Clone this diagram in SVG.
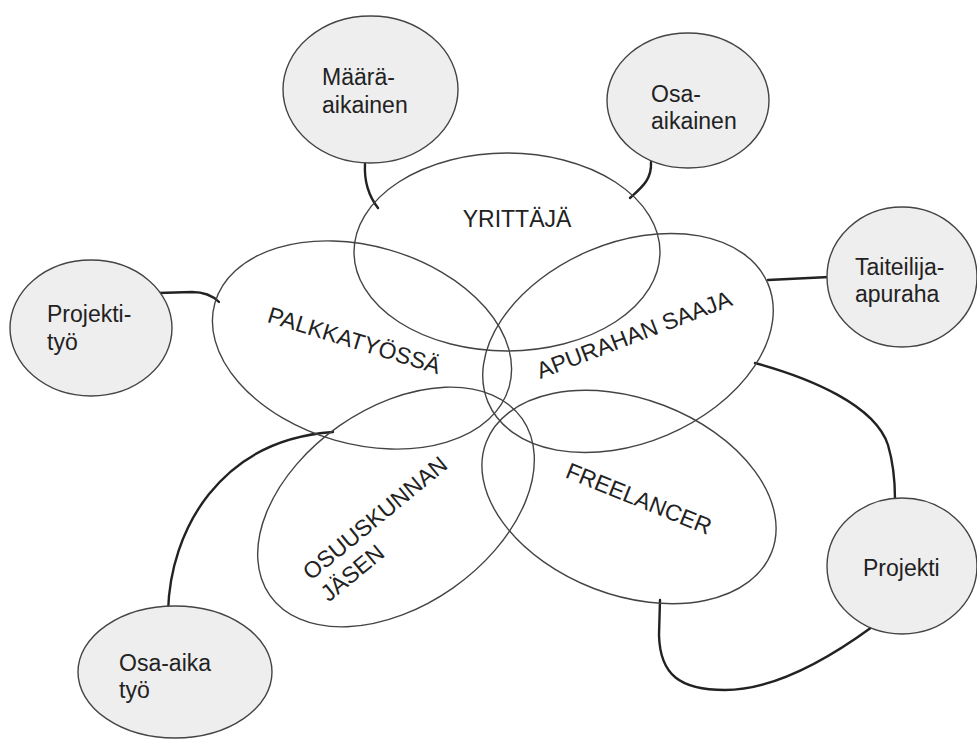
<svg xmlns="http://www.w3.org/2000/svg" width="977" height="740" viewBox="0 0 977 740">
  <style>
    text { font-family: "Liberation Sans", Arial, sans-serif; font-size: 23px; fill: #222; }
    .big { fill: none; stroke: #444; stroke-width: 1.4; }
    .small { fill: #eeeeee; stroke: #444; stroke-width: 1.4; }
    .conn { fill: none; stroke: #222; stroke-width: 2.4; stroke-linecap: round; }
  </style>
  <rect width="977" height="740" fill="#ffffff"/>

  <!-- connectors -->
  <g id="connectors">
    <path class="conn" d="M365,164 C364,182 368,195 378,208"/>
    <path class="conn" d="M651,162 C652,180 641,188 630,198"/>
    <path class="conn" d="M158,293 L192,292 C205,292 213,296 219,302"/>
    <path class="conn" d="M168,612 C170,530 220,440 333,432"/>
    <path class="conn" d="M768,280 L829,277"/>
    <path class="conn" d="M755,363 C810,378 875,405 888,445 C893,462 895,480 895,499"/>
    <path class="conn" d="M660,600 L659,635 C660,675 680,690 725,690 C770,690 820,665 872,627"/>
  </g>

  <!-- main categories -->
  <g id="yrittaja">
    <ellipse class="big" cx="507" cy="252" rx="153" ry="99"/>
    <text x="517" y="227" text-anchor="middle">YRITTÄJÄ</text>
  </g>
  <g id="palkkatyossa">
    <ellipse class="big" cx="362" cy="345" rx="153" ry="99" transform="rotate(16 362 345)"/>
    <text transform="translate(352,348) rotate(17)" text-anchor="middle">PALKKATYÖSSÄ</text>
  </g>
  <g id="apurahan-saaja">
    <ellipse class="big" cx="628" cy="343" rx="152" ry="100" transform="rotate(-23 628 343)"/>
    <text transform="translate(637,342) rotate(-21)" text-anchor="middle">APURAHAN SAAJA</text>
  </g>
  <g id="freelancer">
    <ellipse class="big" cx="629" cy="497" rx="153" ry="98" transform="rotate(21 629 497)"/>
    <text transform="translate(636,506) rotate(22)" text-anchor="middle">FREELANCER</text>
  </g>
  <g id="osuuskunnan-jasen">
    <ellipse class="big" cx="396" cy="507" rx="154" ry="99" transform="rotate(-35 396 507)"/>
    <g transform="translate(311,581) rotate(-39.5)">
      <text x="0" y="0">OSUUSKUNNAN</text>
      <text x="0" y="28">JÄSEN</text>
    </g>
  </g>

  <!-- sub-items -->
  <g id="maaraaikainen">
    <ellipse class="small" cx="370.5" cy="89.5" rx="87.5" ry="73.5"/>
    <text x="322" y="85">Määrä-</text>
    <text x="322" y="113">aikainen</text>
  </g>
  <g id="osa-aikainen">
    <ellipse class="small" cx="688" cy="100.5" rx="81" ry="67.5"/>
    <text x="651" y="102">Osa-</text>
    <text x="651" y="129">aikainen</text>
  </g>
  <g id="projektityo">
    <ellipse class="small" cx="91" cy="328" rx="81" ry="68"/>
    <text x="47" y="322">Projekti-</text>
    <text x="47" y="350">työ</text>
  </g>
  <g id="taiteilija-apuraha">
    <ellipse class="small" cx="902" cy="277" rx="75" ry="70"/>
    <text x="855" y="275">Taiteilija-</text>
    <text x="855" y="302">apuraha</text>
  </g>
  <g id="projekti">
    <ellipse class="small" cx="902" cy="566" rx="75" ry="68"/>
    <text x="863" y="576">Projekti</text>
  </g>
  <g id="osa-aika-tyo">
    <ellipse class="small" cx="175" cy="672" rx="97" ry="66"/>
    <text x="119" y="671">Osa-aika</text>
    <text x="119" y="698">työ</text>
  </g>
</svg>
